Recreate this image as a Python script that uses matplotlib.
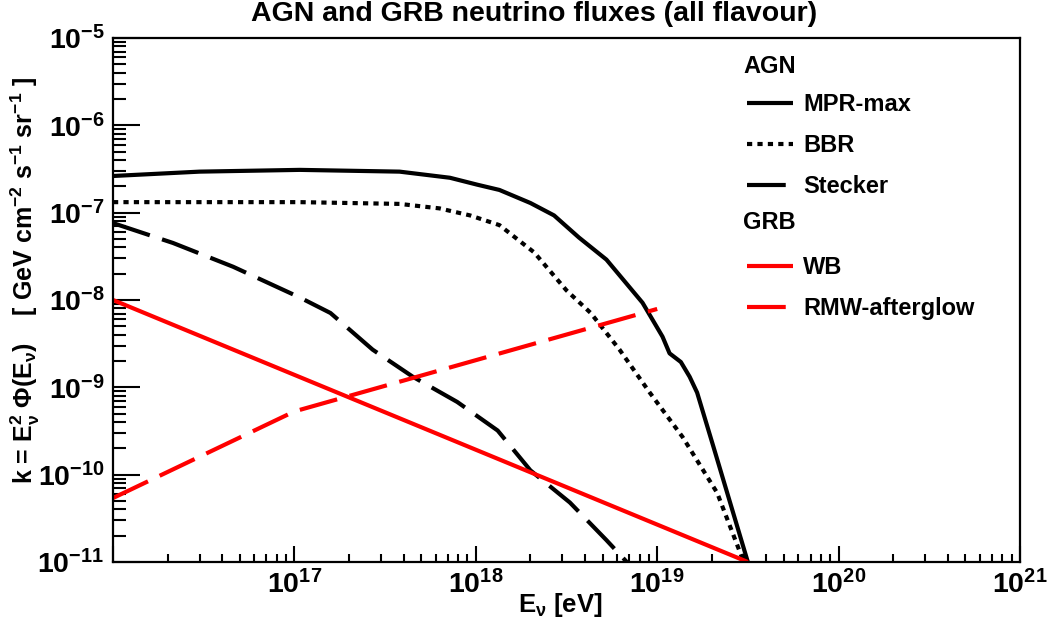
import numpy as np
import matplotlib
matplotlib.use("Agg")
import matplotlib.pyplot as plt
from matplotlib.lines import Line2D
from matplotlib.ticker import FixedLocator, LogLocator, NullFormatter, FixedFormatter

plt.rcParams['font.family'] = ['Liberation Sans', 'DejaVu Sans']
plt.rcParams['font.weight'] = 'bold'
plt.rcParams['mathtext.fontset'] = 'custom'
plt.rcParams['mathtext.rm'] = 'Liberation Sans:bold'
plt.rcParams['mathtext.bf'] = 'Liberation Sans:bold'
plt.rcParams['mathtext.it'] = 'Liberation Sans:bold'
plt.rcParams['mathtext.default'] = 'rm'

# ---- data ----
mpr_E = [1.0e16, 3.0e16, 1.07e17, 3.8e17, 7.2e17, 1.02e18, 1.35e18, 2.0e18, 2.7e18,
         3.7e18, 5.25e18, 8.3e18, 1.07e19, 1.17e19, 1.35e19, 1.51e19, 1.66e19, 2.04e19, 3.16e19]
mpr_F = [2.63e-7, 2.95e-7, 3.09e-7, 2.95e-7, 2.51e-7, 2.09e-7, 1.82e-7, 1.29e-7, 9.3e-8,
         5.2e-8, 2.9e-8, 9.3e-9, 3.8e-9, 2.45e-9, 1.95e-9, 1.32e-9, 8.7e-10, 2.1e-10, 1.0e-11]

bbr_E = [1.0e16, 1.07e17, 3.8e17, 6.3e17, 9.3e17, 1.35e18, 2.1e18, 3.16e18, 4.3e18,
         6.2e18, 9.1e18, 1.38e19, 2.14e19, 3.0e19]
bbr_F = [1.32e-7, 1.32e-7, 1.26e-7, 1.12e-7, 9.3e-8, 7.2e-8, 3.5e-8, 1.29e-8, 7.1e-9,
         2.7e-9, 8.7e-10, 2.7e-10, 6.2e-11, 1.0e-11]

stecker_E = [1.0e16, 2.14e16, 4.6e16, 1.07e17, 1.58e17, 2.7e17, 4.5e17, 7.9e17, 1.32e18,
             2.0e18, 3.3e18, 5.25e18, 6.8e18]
stecker_F = [7.6e-8, 4.5e-8, 2.4e-8, 1.07e-8, 7.1e-9, 2.7e-9, 1.32e-9, 6.8e-10, 3.2e-10,
             1.12e-10, 4.8e-11, 1.78e-11, 1.0e-11]

wb_E = [1.0e16, 3.16e19]
wb_F = [1.0e-8, 1.0e-11]

rmw_E = [1.0e16, 1.0e17, 1.0e19]
rmw_F = [5.4e-11, 5.3e-10, 7.9e-9]

x_tick_values = [1e17, 1e18, 1e19, 1e20, 1e21]
x_tick_labels = [r'$10^{17}$', r'$10^{18}$', r'$10^{19}$', r'$10^{20}$', r'$10^{21}$']
y_tick_values = [1e-11, 1e-10, 1e-9, 1e-8, 1e-7, 1e-6, 1e-5]
y_tick_labels = [r'$10^{-11}$', r'$10^{-10}$', r'$10^{-9}$', r'$10^{-8}$',
                 r'$10^{-7}$', r'$10^{-6}$', r'$10^{-5}$']

# ---- figure ----
fig = plt.figure(figsize=(10.47, 6.25), dpi=100)
ax = fig.add_axes([113/1047, 63/625, 907/1047, 524/625])

lw = 3.0
dash = (0, (9.3, 3.1))
dot = (0, (1.25, 1.25))
l_mpr, = ax.plot(mpr_E, mpr_F, color='black', lw=lw, label='MPR-max', solid_capstyle='butt')
l_bbr, = ax.plot(bbr_E, bbr_F, color='black', lw=lw, linestyle=dot, label='BBR', dash_capstyle='butt')
l_st, = ax.plot(stecker_E, stecker_F, color='black', lw=lw, linestyle=dash, label='Stecker', dash_capstyle='butt')
l_wb, = ax.plot(wb_E, wb_F, color='#ff0000', lw=lw, label='WB', solid_capstyle='butt')
l_rmw, = ax.plot(rmw_E, rmw_F, color='#ff0000', lw=lw, linestyle=dash, label='RMW-afterglow', dash_capstyle='butt')

ax.set_xscale('log')
ax.set_yscale('log')
ax.set_xlim(1e16, 1e21)
ax.set_ylim(1e-11, 1e-5)

ax.xaxis.set_major_locator(FixedLocator([1e16] + x_tick_values))
ax.xaxis.set_major_formatter(FixedFormatter([''] + x_tick_labels))
ax.yaxis.set_major_locator(FixedLocator(y_tick_values))
ax.yaxis.set_major_formatter(FixedFormatter(y_tick_labels))
ax.xaxis.set_minor_locator(LogLocator(base=10, subs=np.arange(2, 10), numticks=20))
ax.yaxis.set_minor_locator(LogLocator(base=10, subs=np.arange(2, 10), numticks=20))
ax.xaxis.set_minor_formatter(NullFormatter())
ax.yaxis.set_minor_formatter(NullFormatter())

ax.tick_params(axis='both', which='both', direction='in', top=False, right=False, width=1.5)
ax.tick_params(axis='y', which='major', length=19.5, pad=6, labelsize=20.5)
ax.tick_params(axis='y', which='minor', length=9.7)
ax.tick_params(axis='x', which='major', length=11.3, pad=6, labelsize=20.5)
ax.tick_params(axis='x', which='minor', length=5.8)
for s in ax.spines.values():
    s.set_linewidth(1.6)

ax.set_ylabel(r'k = E$_{\nu}^{2}$ $\Phi$(E$_{\nu}$)    [ GeV cm$^{-2}$ s$^{-1}$ sr$^{-1}$ ]',
              fontsize=18, fontweight='bold')
ax.yaxis.label.set_va('center')
ax.yaxis.set_label_coords(-0.097, 0.537)
ax.set_xlabel(r'E$_{\nu}$ [eV]', fontsize=18.5, fontweight='bold')
ax.xaxis.label.set_va('center')
ax.xaxis.set_label_coords(0.493, -0.082)

fig.text(0.51, 1 - 14/625, 'AGN and GRB neutrino fluxes (all flavour)', ha='center', va='center',
         fontsize=20.5, fontweight='bold')

blank = Line2D([], [], color='none')
handles = [blank, l_mpr, l_bbr, l_st, blank, l_wb, l_rmw]
labels = [' ', 'MPR-max', 'BBR', 'Stecker', ' ', 'WB', 'RMW-afterglow']
leg = ax.legend(handles, labels, loc='upper left', bbox_to_anchor=(0.699, 0.972),
                frameon=False, borderpad=0, borderaxespad=0, fontsize=17,
                handlelength=1.95, handletextpad=0.42, labelspacing=0.75)
for t in leg.get_texts():
    t.set_fontweight('bold')
ax.text(0.6946, 0.9447, 'AGN', transform=ax.transAxes, ha='left', va='center', fontsize=17, fontweight='bold')
ax.text(0.6946, 0.647, 'GRB', transform=ax.transAxes, ha='left', va='center', fontsize=17, fontweight='bold')

fig.savefig('out.png', dpi=100)
